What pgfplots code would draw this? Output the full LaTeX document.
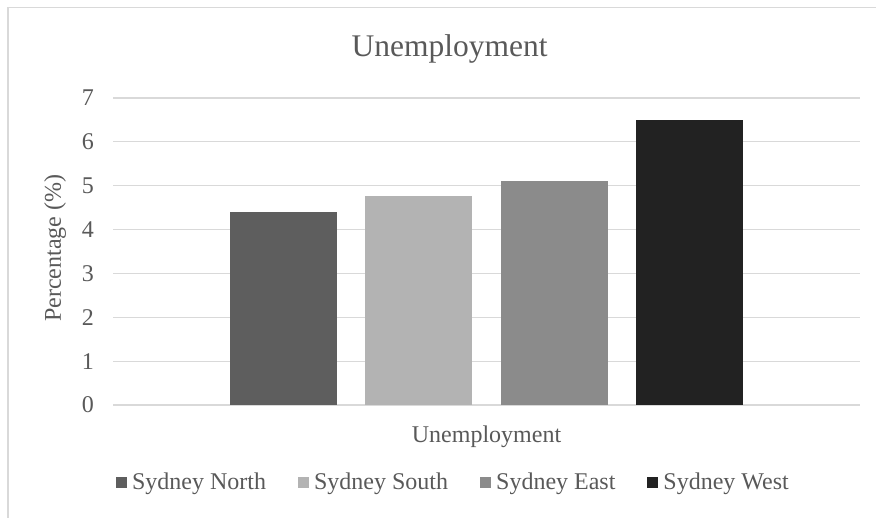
\documentclass[border=0pt]{standalone}
\usepackage{fontspec}
\setmainfont{Liberation Serif}
\usepackage{pgfplots}
\pgfplotsset{compat=1.18}
\definecolor{txt}{HTML}{595959}
\definecolor{gridc}{HTML}{D9D9D9}
\definecolor{cN}{HTML}{5E5E5E}
\definecolor{cS}{HTML}{B3B3B3}
\definecolor{cE}{HTML}{8B8B8B}
\definecolor{cW}{HTML}{222222}
\pgfplotsset{sq/.style={legend image code/.code={\fill[##1] (0pt,-2.75pt) rectangle (5.5pt,2.75pt);}}}
\begin{document}
\begin{tikzpicture}
\useasboundingbox (0,0) rectangle (438pt,259pt);
\draw[gridc, line width=0.75pt] (4pt,0) -- (4pt,255.25pt) -- (438pt,255.25pt);
\node[anchor=base, text=txt, font=\fontsize{15.75}{18}\selectfont, inner sep=0pt] at (224.75pt,230.5pt) {Unemployment};
\begin{axis}[
  at={(56.5pt,56.5pt)}, anchor=south west,
  scale only axis, width=373.5pt, height=153.5pt,
  ymin=0, ymax=7, ytick={0,1,...,7},
  xmin=-1, xmax=1, xtick={0}, xticklabels={Unemployment},
  axis line style={draw=none},
  major tick length=0pt,
  ymajorgrids, grid style={gridc, line width=0.6pt},
  ybar=14.15pt, bar width=53.5pt,
  tick label style={text=txt, font=\fontsize{12}{14}\selectfont},
  /pgf/number format/assume math mode=true,
  yticklabel style={xshift=-6pt},
  xticklabel style={yshift=-7pt},
  ylabel={Percentage (\%)},
  ylabel style={text=txt, font=\fontsize{12}{14}\selectfont, at={(axis description cs:-0.0776,0.511)}, anchor=center, rotate=0},
  legend style={at={(axis description cs:0.4545,-0.254)}, anchor=center, draw=none, fill=none,
    legend columns=4, font=\fontsize{12}{14}\selectfont, text=txt, nodes={inner sep=0pt},
    /tikz/every odd column/.append style={column sep=2.5pt},
    /tikz/every even column/.append style={column sep=16pt}},
]
\addplot[fill=cN, draw=none, sq] coordinates {(0,4.4)};
\addlegendentry{Sydney North}
\addplot[fill=cS, draw=none, sq] coordinates {(0,4.77)};
\addlegendentry{Sydney South}
\addplot[fill=cE, draw=none, sq] coordinates {(0,5.1)};
\addlegendentry{Sydney East}
\addplot[fill=cW, draw=none, sq] coordinates {(0,6.5)};
\addlegendentry{Sydney West}
\end{axis}
\end{tikzpicture}
\end{document}
